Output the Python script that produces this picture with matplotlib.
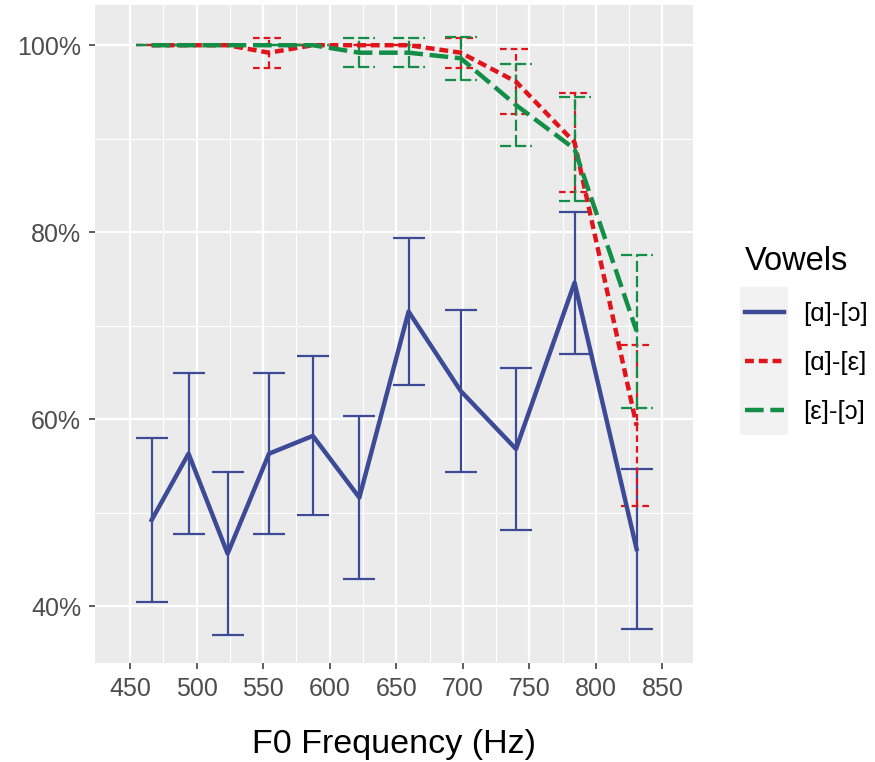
import matplotlib
matplotlib.use('Agg')
import matplotlib.pyplot as plt
import matplotlib.patches as mpatches
from matplotlib.lines import Line2D
import numpy as np

plt.rcParams['font.family'] = ['Liberation Sans', 'DejaVu Sans']

# F0 steps (Hz), semitones A#4 .. G#5
f0 = [466.16, 493.88, 523.25, 554.37, 587.33, 622.25, 659.26, 698.46, 739.99, 783.99, 830.61]

# mean identification (%) and half error bar width per vowel pair
ao_mean = [49.2, 56.3, 45.6, 56.3, 58.2, 51.6, 71.5, 63.0, 56.8, 74.6, 46.1]
ao_err = [8.8, 8.6, 8.7, 8.6, 8.5, 8.7, 7.9, 8.7, 8.7, 7.6, 8.6]

ae_mean = [100, 100, 100, 99.2, 100, 100, 100, 99.2, 96.1, 89.6, 59.3]
ae_err = [0, 0, 0, 1.6, 0, 0, 0, 1.6, 3.5, 5.3, 8.6]

eo_mean = [100, 100, 100, 100, 100, 99.2, 99.2, 98.6, 93.6, 88.9, 69.4]
eo_err = [0, 0, 0, 0, 0, 1.55, 1.55, 2.3, 4.35, 5.6, 8.2]

labels = ['[ɑ]-[ɔ]', '[ɑ]-[ε]', '[ε]-[ɔ]']
colors = ['#3D4B97', '#E0141B', '#138E46']

fig = plt.figure(figsize=(8.75, 7.62), dpi=100)
ax = fig.add_axes([0.1086, 0.1299, 0.6834, 0.8635])
ax.set_facecolor('#EBEBEB')

cap = 12  # half width of error bar caps, Hz

series = [
    (ao_mean, ao_err, colors[0], '-', None),
    (ae_mean, ae_err, colors[1], (0, (2.0, 1.1)), (0, (3, 1.8))),
    (eo_mean, eo_err, colors[2], (0, (4.2, 1.5)), (0, (5, 1.8))),
]

for mean, err, col, ls, els in series:
    x = np.array(f0)
    m = np.array(mean)
    e = np.array(err)
    lo, hi = m - e, m + e
    ebls = '-' if els is None else els
    ax.vlines(x, lo, hi, colors=col, linewidth=1.6, linestyles=ebls, zorder=3)
    ax.hlines(lo, x - cap, x + cap, colors=col, linewidth=1.6, linestyles=ebls, zorder=3)
    ax.hlines(hi, x - cap, x + cap, colors=col, linewidth=1.6, linestyles=ebls, zorder=3)

for mean, err, col, ls, els in series:
    ax.plot(f0, mean, color=col, linewidth=3.2, linestyle=ls, zorder=4)

ax.set_xlim(423.6, 873)
ax.set_ylim(33.9, 104.3)
ax.set_xticks(np.arange(450, 851, 50))
ax.set_xticks(np.arange(475, 851, 50), minor=True)
ax.set_yticks([40, 60, 80, 100])
ax.set_yticks([50, 70, 90], minor=True)
ax.set_yticklabels(['40%', '60%', '80%', '100%'])
ax.grid(which='major', color='white', linewidth=1.6)
ax.grid(which='minor', color='white', linewidth=0.8)
ax.set_axisbelow(True)
for s in ax.spines.values():
    s.set_visible(False)
ax.tick_params(which='major', length=4, width=1.1, color='#333333',
               labelsize=18, labelcolor='#4D4D4D', pad=6)
ax.tick_params(which='minor', length=0)
ax.set_xlabel('F0 Frequency (Hz)', fontsize=24.5, labelpad=20, color='black')

# legend
handles = [
    Line2D([], [], color=colors[0], linewidth=3.2, linestyle='-'),
    Line2D([], [], color=colors[1], linewidth=3.2, linestyle=(0, (2.0, 1.1))),
    Line2D([], [], color=colors[2], linewidth=3.2, linestyle=(0, (4.2, 1.5))),
]
fig.patches.append(mpatches.Rectangle((740 / 875, 1 - 435 / 762), 48 / 875, 148 / 762,
                                      transform=fig.transFigure, facecolor='#F2F2F2',
                                      edgecolor='none', zorder=0))
leg = fig.legend(handles, labels, loc='upper left', bbox_to_anchor=(722 / 875, 1 - 223 / 762),
                 frameon=False, title='Vowels', fontsize=18.5, title_fontsize=23.5,
                 handlelength=1.5, handletextpad=0.75, labelspacing=0.97,
                 alignment='left')

fig.savefig('out.png', dpi=100)
